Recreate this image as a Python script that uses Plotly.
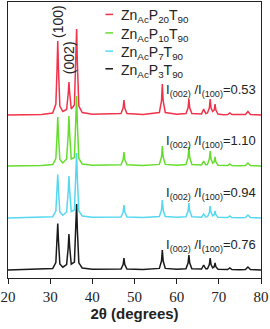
import plotly.graph_objects as go

# 2-theta grid (degrees) of key profile points
two_theta = [20, 28, 30.6, 31.35, 31.62, 31.8, 31.98, 32.3, 33.0, 33.9, 34.27, 34.45, 34.63, 35.0,
             35.75, 36.09, 36.27, 36.45, 36.8, 37.6, 40, 46.8, 47.3, 47.5, 47.7, 48.2, 52, 55.9,
             56.4, 56.6, 56.8, 57.3, 60, 62.2, 62.7, 62.9, 63.1, 63.6, 65.9, 66.4, 66.9, 67.3,
             67.75, 67.95, 68.15, 68.55, 68.9, 69.1, 69.3, 69.8, 71, 72.1, 72.6, 73.1, 75, 76.3,
             76.9, 77.5, 80]

# Intensities (a.u., relative to each pattern's own baseline)
int_p20 = [0, 0.5, 2, 11, 45, 74, 45, 9, 3.5, 5.5, 21, 33, 22, 6, 10, 53, 86, 52, 9, 2.5, 0.8,
           1.5, 7, 15, 7, 1.5, 0.5, 2.5, 14, 31, 14, 2.5, 0.8, 1.5, 7, 16, 7, 1.5, 1, 6, 1.5, 2,
           7, 16, 7, 3.5, 5, 11, 5, 1, 0.3, 0.5, 2, 0.5, 0.3, 0.5, 3.5, 0.5, 0]
int_p10 = [0, 0.5, 1.5, 7.5, 30, 49, 30, 6.5, 3, 7, 31, 50, 32, 7, 8.5, 43, 70, 42, 7.5, 2, 0.7,
           1.2, 6.5, 14, 6.5, 1.2, 0.5, 1.6, 9, 20, 9, 1.6, 0.7, 1.5, 8.5, 19, 8.5, 1.5, 1, 5, 1.2,
           1.6, 7, 15, 7, 2.8, 4.2, 9, 4.2, 0.8, 0.3, 0.4, 2, 0.4, 0.3, 0.4, 3, 0.4, 0]
int_p7 = [0, 0.5, 1.3, 7, 27, 43.5, 27, 6, 2.8, 6, 26, 42, 27, 6.5, 8, 40, 65, 39, 7, 2, 0.7,
          1, 6, 13, 6, 1, 0.5, 1.5, 8, 18, 8, 1.5, 0.7, 1.2, 7, 15, 7, 1.2, 0.8, 4, 1, 1.3,
          5.5, 12, 5.5, 2.2, 3.3, 7, 3.3, 0.7, 0.3, 0.4, 2, 0.4, 0.3, 0.4, 3, 0.4, 0]
int_p3 = [0, 0.5, 1.4, 7.5, 28.5, 46.5, 28.5, 6, 2.8, 5.5, 22, 36, 23, 5.8, 8, 40.5, 66, 40, 7.2,
          2, 0.7, 1, 5.5, 12, 5.5, 1, 0.5, 1.6, 9, 20, 9, 1.6, 0.7, 1.2, 7, 15, 7, 1.2, 1, 5,
          1.2, 1.3, 5.5, 12, 5.5, 2.2, 3.3, 7, 3.3, 0.7, 0.3, 0.4, 2, 0.4, 0.3, 0.4, 3, 0.4, 0]

series_names = ["Zn<sub>Ac</sub>P<sub>20</sub>T<sub>90</sub>",
                "Zn<sub>Ac</sub>P<sub>10</sub>T<sub>90</sub>",
                "Zn<sub>Ac</sub>P<sub>7</sub>T<sub>90</sub>",
                "Zn<sub>Ac</sub>P<sub>3</sub>T<sub>90</sub>"]
series_values = [int_p20, int_p10, int_p7, int_p3]
stack_offsets = [163, 112, 60, 8]
ratio_labels = ["0.53", "1.10", "0.94", "0.76"]
x_ticks = [20, 30, 40, 50, 60, 70, 80]

colors = ["#f0334b", "#66dd2e", "#55d8f0", "#1a1a1a"]
sans = "Liberation Sans, Arial"

fig = go.Figure()
for name, vals, off, col in zip(series_names, series_values, stack_offsets, colors):
    fig.add_trace(go.Scatter(
        x=two_theta, y=[v + off for v in vals], mode="lines", name=name,
        line=dict(color=col, width=1.5), showlegend=False,
    ))

ann = []
shapes = []
# legend-like key (top, inside the plot), in paper coordinates
leg_x0, leg_x1, leg_tx = 0.385, 0.415, 0.437
leg_rows = [0.955, 0.888, 0.822, 0.758]
for name, col, ly in zip(series_names, colors, leg_rows):
    shapes.append(dict(type="line", xref="paper", yref="paper", x0=leg_x0, x1=leg_x1,
                       y0=ly, y1=ly, line=dict(color=col, width=1.5)))
    ann.append(dict(x=leg_tx, y=ly, xref="paper", yref="paper", xanchor="left",
                    yanchor="middle", yshift=-2, text=name, showarrow=False,
                    font=dict(family=sans, size=14, color="#222")))

for lab, off in zip(ratio_labels, stack_offsets):
    ann.append(dict(
        x=57.0, y=off + 25, xref="x", yref="y", xanchor="left", yanchor="middle",
        text="I<sub>(002)</sub> /I<sub>(100)</sub>=" + lab, showarrow=False,
        font=dict(family=sans, size=13, color="#222"),
    ))
ann.append(dict(x=31.85, y=257, xref="x", yref="y", text="(100)", textangle=-90,
                showarrow=False, font=dict(family=sans, size=14, color="#222")))
ann.append(dict(x=34.5, y=220, xref="x", yref="y", text="(002)", textangle=-90,
                showarrow=False, font=dict(family=sans, size=14, color="#222")))

fig.update_layout(
    width=270, height=329,
    margin=dict(l=8, r=9, t=2, b=51, autoexpand=False),
    paper_bgcolor="white", plot_bgcolor="white",
    showlegend=False,
    annotations=ann,
    shapes=shapes,
    xaxis=dict(range=[20, 80], tickvals=x_ticks, ticks="outside", ticklen=5, tickwidth=1,
               tickcolor="#222", showline=True, linecolor="#222", linewidth=1, mirror=True,
               showgrid=False, zeroline=False, automargin=False,
               tickfont=dict(family="Liberation Serif, Times New Roman", size=15, color="#222"),
               title=dict(text="<b>2θ (degrees)</b>", standoff=0,
                          font=dict(family=sans, size=15, color="#222"))),
    yaxis=dict(range=[0, 276], showticklabels=False, ticks="", showline=True, linecolor="#222",
               linewidth=1, mirror=True, showgrid=False, zeroline=False, automargin=False),
)

fig.write_html("out.html", config={"displayModeBar": False},
               post_script="document.body.style.margin='0';")
